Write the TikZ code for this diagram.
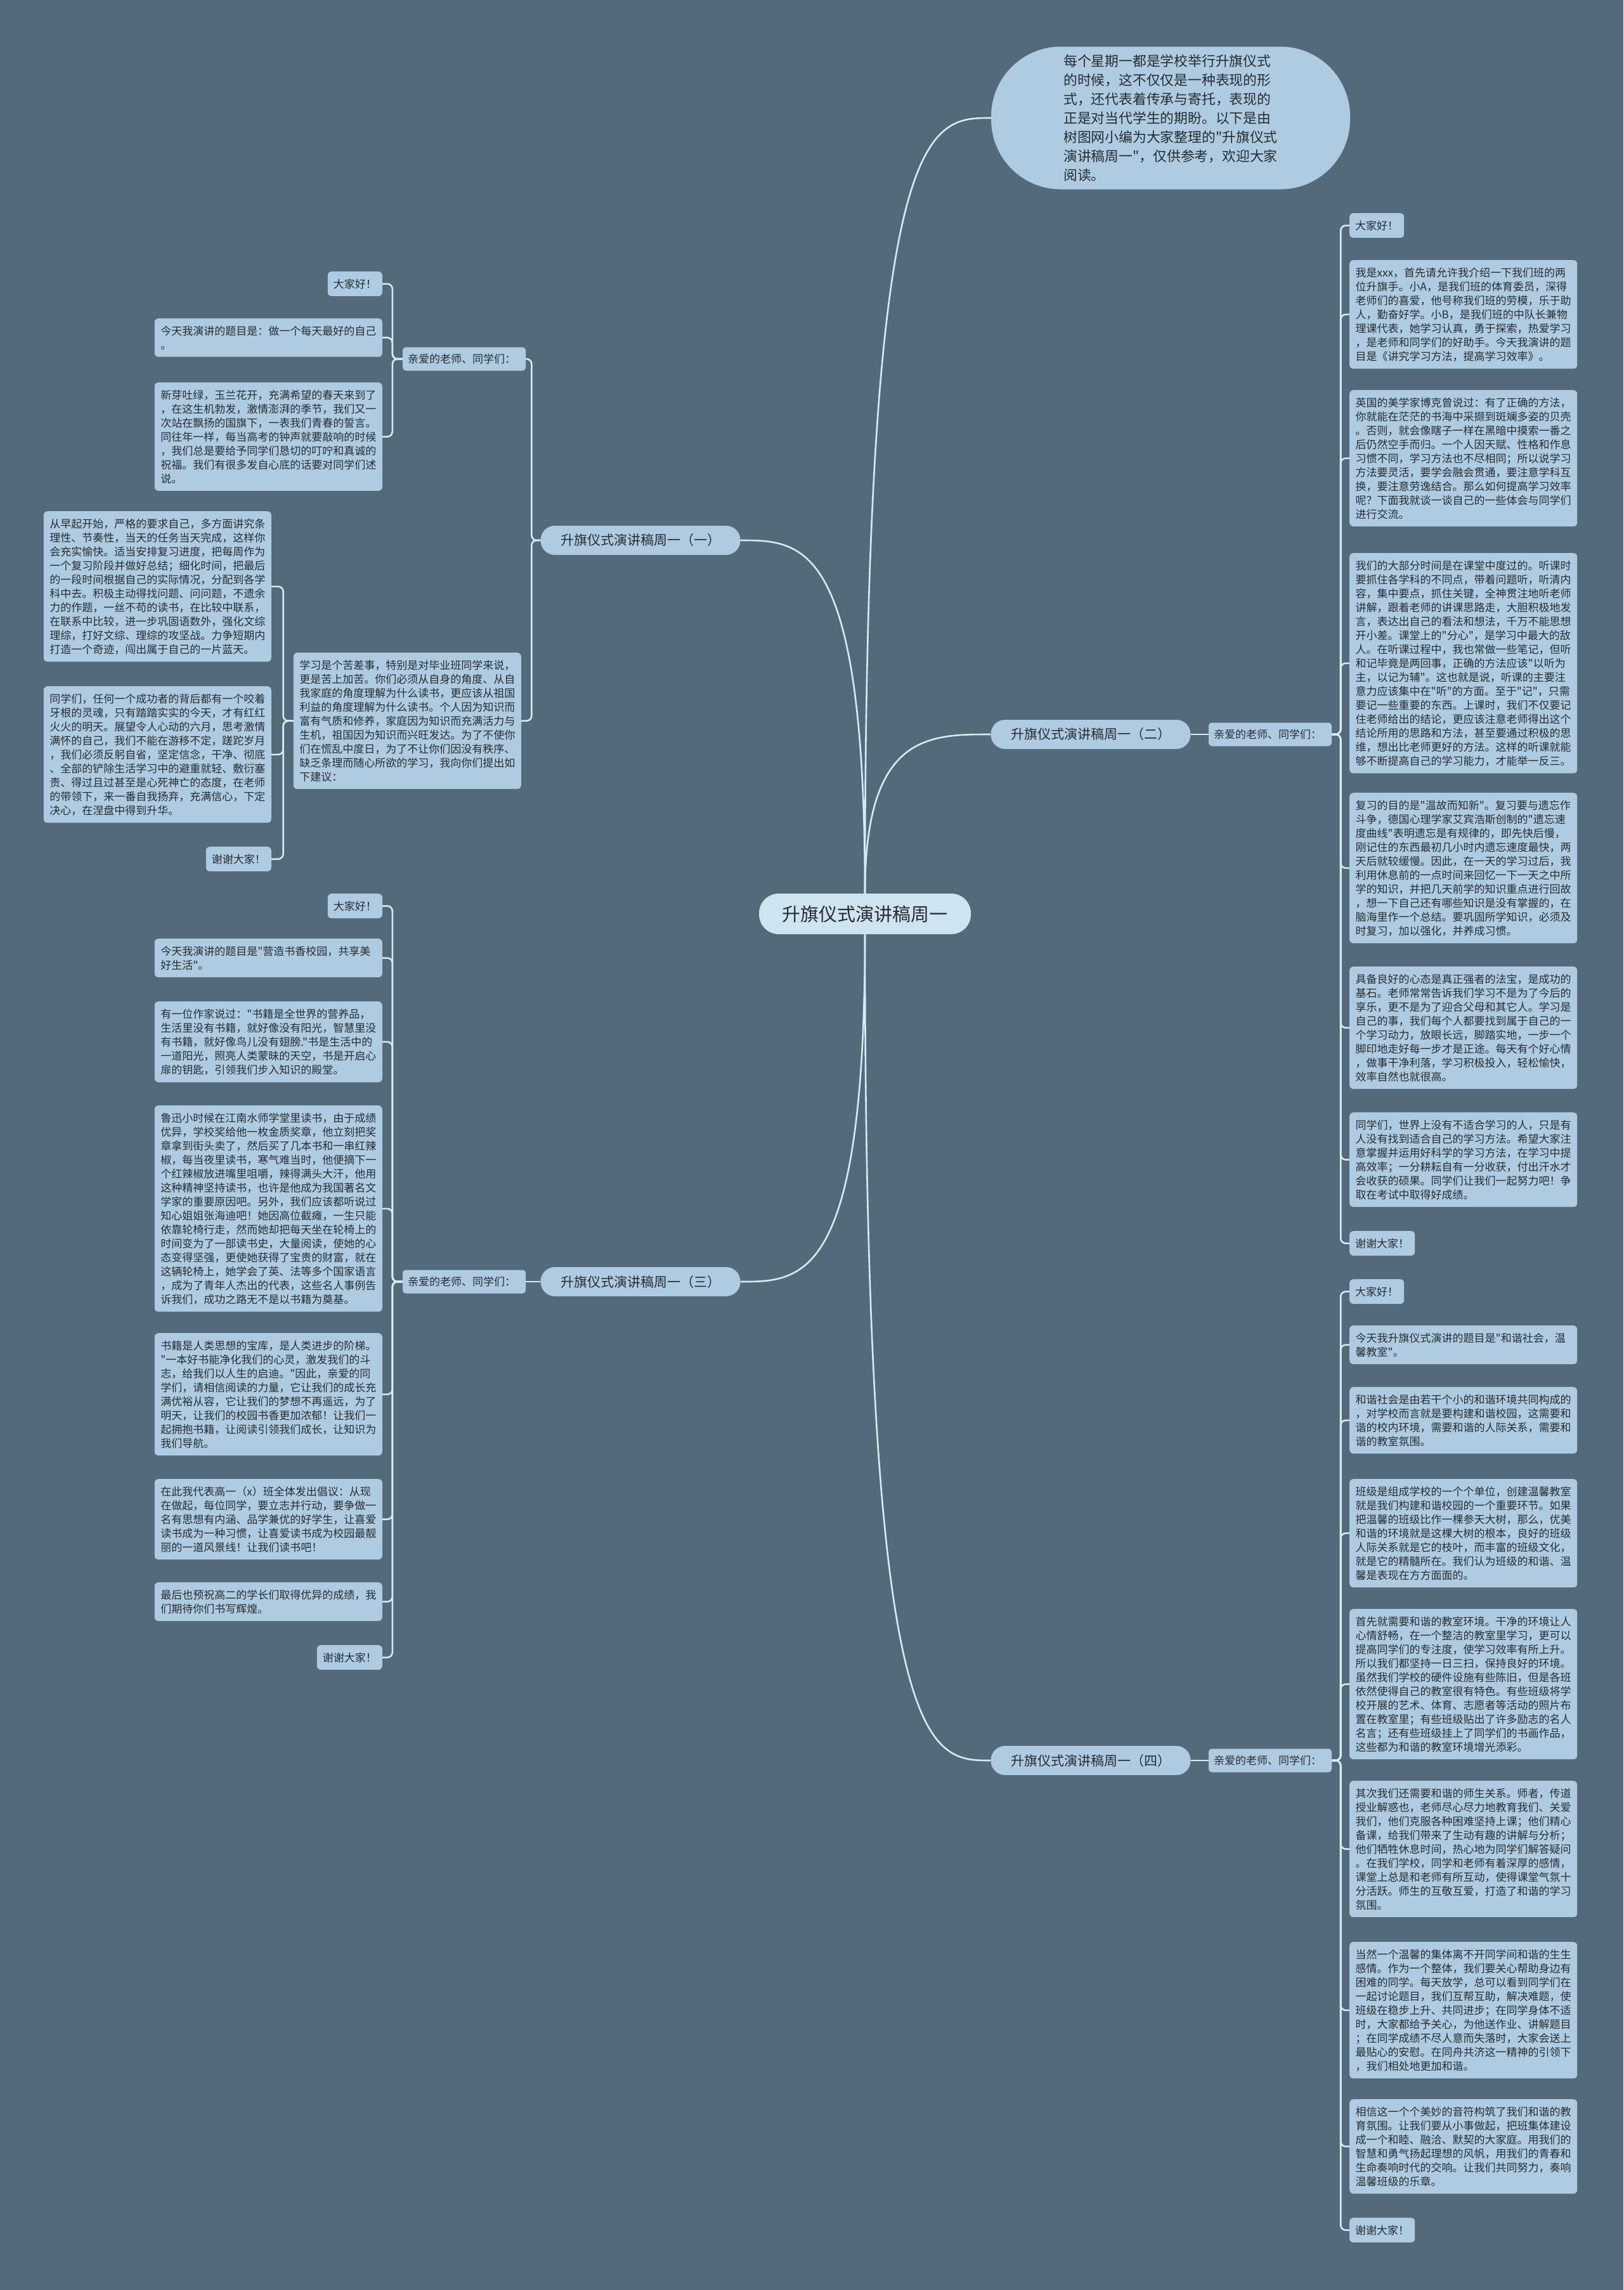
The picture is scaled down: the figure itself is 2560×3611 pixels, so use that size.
\documentclass[tikz,border=0pt]{standalone}
\usepackage{fontspec}
\usepackage{xcolor}
\usepackage{tikz}
\usetikzlibrary{positioning,calc}
\newfontfamily\cjk{Noto Sans CJK SC}
\definecolor{bgslate}{RGB}{84,106,122}
\definecolor{leafblue}{RGB}{174,203,225}
\definecolor{rootblue}{RGB}{207,228,241}
\definecolor{linkblue}{RGB}{214,234,245}
\definecolor{inkgrey}{RGB}{40,44,48}

\begin{document}
\begin{tikzpicture}[x=1pt,y=-1pt,
  every node/.style={font=\cjk,text=inkgrey},
  leaf/.style={fill=leafblue,rounded corners=6pt,inner xsep=9.5pt,inner ysep=11.5pt,text width=340pt,align=left,font=\cjk\fontsize{17}{22}\selectfont},
  tag/.style={fill=leafblue,rounded corners=6pt,inner xsep=9pt,inner ysep=11.5pt,font=\cjk\fontsize{17}{22}\selectfont},
  sub/.style={fill=leafblue,rounded corners=5pt,inner xsep=8pt,text width=178pt,align=left,minimum height=37pt,font=\cjk\fontsize{17}{22}\selectfont},
  br/.style={fill=leafblue,rounded corners=22.5pt,minimum width=315pt,minimum height=46pt,font=\cjk\fontsize{21}{25}\selectfont},
  lk/.style={draw=linkblue,line width=2.6pt,rounded corners=8pt}]
 \path[use as bounding box,fill=bgslate] (0,0) rectangle (2560,3611);

 \node[fill=rootblue,rounded corners=31pt,minimum width=334pt,minimum height=64pt,font=\cjk\fontsize{29}{33}\selectfont] (root) at (1364,1441) {升旗仪式演讲稿周一};
 \node[fill=leafblue,rounded corners=110pt,minimum width=566pt,minimum height=225pt,align=left,font=\cjk\fontsize{21.8}{30}\selectfont] (intro) at (1846,186) {每个星期一都是学校举行升旗仪式\\的时候，这不仅仅是一种表现的形\\式，还代表着传承与寄托，表现的\\正是对当代学生的期盼。以下是由\\树图网小编为大家整理的"升旗仪式\\演讲稿周一"，仅供参考，欢迎大家\\阅读。};

 \node[br] (b1) at (1010,852) {升旗仪式演讲稿周一（一）};
 \node[br] (b2) at (1720,1158) {升旗仪式演讲稿周一（二）};
 \node[br] (b3) at (1010,2021) {升旗仪式演讲稿周一（三）};
 \node[br] (b4) at (1720,2776) {升旗仪式演讲稿周一（四）};

 \node[sub] (s1) at (732,566) {亲爱的老师、同学们：};
 \node[sub] (s2) at (2003,1158) {亲爱的老师、同学们：};
 \node[sub] (s3) at (732,2021) {亲爱的老师、同学们：};
 \node[sub] (s4) at (2003,2776) {亲爱的老师、同学们：};

 % (一)
 \node[tag,anchor=north east] (p1a) at (603,428) {大家好！};
 \node[leaf,anchor=north east] (p1b) at (603,502) {今天我演讲的题目是：做一个每天最好的自己\\。};
 \node[leaf,anchor=north east] (p1c) at (603,603) {新芽吐绿，玉兰花开，充满希望的春天来到了\\，在这生机勃发，激情澎湃的季节，我们又一\\次站在飘扬的国旗下，一表我们青春的誓言。\\同往年一样，每当高考的钟声就要敲响的时候\\，我们总是要给予同学们恳切的叮咛和真诚的\\祝福。我们有很多发自心底的话要对同学们述\\说。};
 \node[leaf,anchor=north east] (t1) at (822,1029) {学习是个苦差事，特别是对毕业班同学来说，\\更是苦上加苦。你们必须从自身的角度、从自\\我家庭的角度理解为什么读书，更应该从祖国\\利益的角度理解为什么读书。个人因为知识而\\富有气质和修养，家庭因为知识而充满活力与\\生机，祖国因为知识而兴旺发达。为了不使你\\们在慌乱中度日，为了不让你们因没有秩序、\\缺乏条理而随心所欲的学习，我向你们提出如\\下建议：};
 \node[leaf,anchor=north east] (q1a) at (428,806) {从早起开始，严格的要求自己，多方面讲究条\\理性、节奏性，当天的任务当天完成，这样你\\会充实愉快。适当安排复习进度，把每周作为\\一个复习阶段并做好总结；细化时间，把最后\\的一段时间根据自己的实际情况，分配到各学\\科中去。积极主动得找问题、问问题，不遗余\\力的作题，一丝不苟的读书，在比较中联系，\\在联系中比较，进一步巩固语数外，强化文综\\理综，打好文综、理综的攻坚战。力争短期内\\打造一个奇迹，闯出属于自己的一片蓝天。};
 \node[leaf,anchor=north east] (q1b) at (428,1082) {同学们，任何一个成功者的背后都有一个咬着\\牙根的灵魂，只有踏踏实实的今天，才有红红\\火火的明天。展望令人心动的六月，思考激情\\满怀的自己，我们不能在游移不定，蹉跎岁月\\，我们必须反躬自省，坚定信念，干净、彻底\\、全部的铲除生活学习中的避重就轻、敷衍塞\\责、得过且过甚至是心死神亡的态度，在老师\\的带领下，来一番自我扬弃，充满信心，下定\\决心，在涅盘中得到升华。};
 \node[tag,anchor=north east] (q1c) at (428,1335) {谢谢大家！};

 % (二)
 \node[tag,anchor=north west] (p2a) at (2128,336) {大家好！};
 \node[leaf,anchor=north west] (p2b) at (2128,410) {我是xxx，首先请允许我介绍一下我们班的两\\位升旗手。小A，是我们班的体育委员，深得\\老师们的喜爱，他号称我们班的劳模，乐于助\\人，勤奋好学。小B，是我们班的中队长兼物\\理课代表，她学习认真，勇于探索，热爱学习\\，是老师和同学们的好助手。今天我演讲的题\\目是《讲究学习方法，提高学习效率》。};
 \node[leaf,anchor=north west] (p2c) at (2128,615) {英国的美学家博克曾说过：有了正确的方法，\\你就能在茫茫的书海中采撷到斑斓多姿的贝壳\\。否则，就会像瞎子一样在黑暗中摸索一番之\\后仍然空手而归。一个人因天赋、性格和作息\\习惯不同，学习方法也不尽相同；所以说学习\\方法要灵活，要学会融会贯通，要注意学科互\\换，要注意劳逸结合。那么如何提高学习效率\\呢？下面我就谈一谈自己的一些体会与同学们\\进行交流。};
 \node[leaf,anchor=north west] (p2d) at (2128,872) {我们的大部分时间是在课堂中度过的。听课时\\要抓住各学科的不同点，带着问题听，听清内\\容，集中要点，抓住关键，全神贯注地听老师\\讲解，跟着老师的讲课思路走，大胆积极地发\\言，表达出自己的看法和想法，千万不能思想\\开小差。课堂上的"分心"，是学习中最大的敌\\人。在听课过程中，我也常做一些笔记，但听\\和记毕竟是两回事，正确的方法应该"以听为\\主，以记为辅"。这也就是说，听课的主要注\\意力应该集中在"听"的方面。至于"记"，只需\\要记一些重要的东西。上课时，我们不仅要记\\住老师给出的结论，更应该注意老师得出这个\\结论所用的思路和方法，甚至要通过积极的思\\维，想出比老师更好的方法。这样的听课就能\\够不断提高自己的学习能力，才能举一反三。};
 \node[leaf,anchor=north west] (p2e) at (2128,1250) {复习的目的是"温故而知新"。复习要与遗忘作\\斗争，德国心理学家艾宾浩斯创制的"遗忘速\\度曲线"表明遗忘是有规律的，即先快后慢，\\刚记住的东西最初几小时内遗忘速度最快，两\\天后就较缓慢。因此，在一天的学习过后，我\\利用休息前的一点时间来回忆一下一天之中所\\学的知识，并把几天前学的知识重点进行回故\\，想一下自己还有哪些知识是没有掌握的，在\\脑海里作一个总结。要巩固所学知识，必须及\\时复习，加以强化，并养成习惯。};
 \node[leaf,anchor=north west] (p2f) at (2128,1524) {具备良好的心态是真正强者的法宝，是成功的\\基石。老师常常告诉我们学习不是为了今后的\\享乐，更不是为了迎合父母和其它人。学习是\\自己的事，我们每个人都要找到属于自己的一\\个学习动力，放眼长远，脚踏实地，一步一个\\脚印地走好每一步才是正途。每天有个好心情\\，做事干净利落，学习积极投入，轻松愉快，\\效率自然也就很高。};
 \node[leaf,anchor=north west] (p2g) at (2128,1754) {同学们，世界上没有不适合学习的人，只是有\\人没有找到适合自己的学习方法。希望大家注\\意掌握并运用好科学的学习方法，在学习中提\\高效率；一分耕耘自有一分收获，付出汗水才\\会收获的硕果。同学们让我们一起努力吧！争\\取在考试中取得好成绩。};
 \node[tag,anchor=north west] (p2h) at (2128,1941) {谢谢大家！};

 % (三)
 \node[tag,anchor=north east] (p3a) at (603,1409) {大家好！};
 \node[leaf,anchor=north east] (p3b) at (603,1480) {今天我演讲的题目是"营造书香校园，共享美\\好生活"。};
 \node[leaf,anchor=north east] (p3c) at (603,1579) {有一位作家说过："书籍是全世界的营养品，\\生活里没有书籍，就好像没有阳光，智慧里没\\有书籍，就好像鸟儿没有翅膀."书是生活中的\\一道阳光，照亮人类蒙昧的天空，书是开启心\\扉的钥匙，引领我们步入知识的殿堂。};
 \node[leaf,anchor=north east] (p3d) at (603,1743) {鲁迅小时候在江南水师学堂里读书，由于成绩\\优异，学校奖给他一枚金质奖章，他立刻把奖\\章拿到街头卖了，然后买了几本书和一串红辣\\椒，每当夜里读书，寒气难当时，他便摘下一\\个红辣椒放进嘴里咀嚼，辣得满头大汗，他用\\这种精神坚持读书，也许是他成为我国著名文\\学家的重要原因吧。另外，我们应该都听说过\\知心姐姐张海迪吧！她因高位截瘫，一生只能\\依靠轮椅行走，然而她却把每天坐在轮椅上的\\时间变为了一部读书史，大量阅读，使她的心\\态变得坚强，更使她获得了宝贵的财富，就在\\这辆轮椅上，她学会了英、法等多个国家语言\\，成为了青年人杰出的代表，这些名人事例告\\诉我们，成功之路无不是以书籍为奠基。};
 \node[leaf,anchor=north east] (p3e) at (603,2102) {书籍是人类思想的宝库，是人类进步的阶梯。\\"一本好书能净化我们的心灵，激发我们的斗\\志，给我们以人生的启迪。"因此，亲爱的同\\学们，请相信阅读的力量，它让我们的成长充\\满优裕从容，它让我们的梦想不再遥远，为了\\明天，让我们的校园书香更加浓郁！让我们一\\起拥抱书籍，让阅读引领我们成长，让知识为\\我们导航。};
 \node[leaf,anchor=north east] (p3f) at (603,2332) {在此我代表高一（x）班全体发出倡议：从现\\在做起，每位同学，要立志并行动，要争做一\\名有思想有内涵、品学兼优的好学生，让喜爱\\读书成为一种习惯，让喜爱读书成为校园最靓\\丽的一道风景线！让我们读书吧！};
 \node[leaf,anchor=north east] (p3g) at (603,2495) {最后也预祝高二的学长们取得优异的成绩，我\\们期待你们书写辉煌。};
 \node[tag,anchor=north east] (p3h) at (603,2594) {谢谢大家！};

 % (四)
 \node[tag,anchor=north west] (p4a) at (2128,2017) {大家好！};
 \node[leaf,anchor=north west] (p4b) at (2128,2090) {今天我升旗仪式演讲的题目是"和谐社会，温\\馨教室"。};
 \node[leaf,anchor=north west] (p4c) at (2128,2187) {和谐社会是由若干个小的和谐环境共同构成的\\，对学校而言就是要构建和谐校园，这需要和\\谐的校内环境，需要和谐的人际关系，需要和\\谐的教室氛围。};
 \node[leaf,anchor=north west] (p4d) at (2128,2332) {班级是组成学校的一个个单位，创建温馨教室\\就是我们构建和谐校园的一个重要环节。如果\\把温馨的班级比作一棵参天大树，那么，优美\\和谐的环境就是这棵大树的根本，良好的班级\\人际关系就是它的枝叶，而丰富的班级文化，\\就是它的精髓所在。我们认为班级的和谐、温\\馨是表现在方方面面的。};
 \node[leaf,anchor=north west] (p4e) at (2128,2537) {首先就需要和谐的教室环境。干净的环境让人\\心情舒畅，在一个整洁的教室里学习，更可以\\提高同学们的专注度，使学习效率有所上升。\\所以我们都坚持一日三扫，保持良好的环境。\\虽然我们学校的硬件设施有些陈旧，但是各班\\依然使得自己的教室很有特色。有些班级将学\\校开展的艺术、体育、志愿者等活动的照片布\\置在教室里；有些班级贴出了许多励志的名人\\名言；还有些班级挂上了同学们的书画作品，\\这些都为和谐的教室环境增光添彩。};
 \node[leaf,anchor=north west] (p4f) at (2128,2808) {其次我们还需要和谐的师生关系。师者，传道\\授业解惑也，老师尽心尽力地教育我们、关爱\\我们，他们克服各种困难坚持上课；他们精心\\备课，给我们带来了生动有趣的讲解与分析；\\他们牺牲休息时间，热心地为同学们解答疑问\\。在我们学校，同学和老师有着深厚的感情，\\课堂上总是和老师有所互动，使得课堂气氛十\\分活跃。师生的互敬互爱，打造了和谐的学习\\氛围。};
 \node[leaf,anchor=north west] (p4g) at (2128,3062) {当然一个温馨的集体离不开同学间和谐的生生\\感情。作为一个整体，我们要关心帮助身边有\\困难的同学。每天放学，总可以看到同学们在\\一起讨论题目，我们互帮互助，解决难题，使\\班级在稳步上升、共同进步；在同学身体不适\\时，大家都给予关心，为他送作业、讲解题目\\；在同学成绩不尽人意而失落时，大家会送上\\最贴心的安慰。在同舟共济这一精神的引领下\\，我们相处地更加和谐。};
 \node[leaf,anchor=north west] (p4h) at (2128,3310) {相信这一个个美妙的音符构筑了我们和谐的教\\育氛围。让我们要从小事做起，把班集体建设\\成一个和睦、融洽、默契的大家庭。用我们的\\智慧和勇气扬起理想的风帆，用我们的青春和\\生命奏响时代的交响。让我们共同努力，奏响\\温馨班级的乐章。};
 \node[tag,anchor=north west] (p4i) at (2128,3497) {谢谢大家！};

 \foreach \b/\a in {intro/west,b1/east,b2/west,b3/east,b4/west}
  \draw[lk] (root) .. controls (root |- \b) and ($(root |- \b)!0.5!(\b.\a)$) .. (\b.\a);
 \draw[lk] (b1.west) -- ++(-14,0) |- (s1.east);
 \draw[lk] (b1.west) -- ++(-14,0) |- (t1.east);
 \draw[lk] (b2) -- (s2);
 \draw[lk] (b3) -- (s3);
 \draw[lk] (b4) -- (s4);
 \foreach \c in {p1a,p1b,p1c} \draw[lk] (s1.west) -- ++(-16,0) |- (\c.east);
 \foreach \c in {q1a,q1b,q1c} \draw[lk] (t1.west) -- ++(-16,0) |- (\c.east);
 \foreach \c in {p2a,p2b,p2c,p2d,p2e,p2f,p2g,p2h} \draw[lk] (s2.east) -- ++(14,0) |- (\c.west);
 \foreach \c in {p3a,p3b,p3c,p3d,p3e,p3f,p3g,p3h} \draw[lk] (s3.west) -- ++(-16,0) |- (\c.east);
 \foreach \c in {p4a,p4b,p4c,p4d,p4e,p4f,p4g,p4h,p4i} \draw[lk] (s4.east) -- ++(14,0) |- (\c.west);
\end{tikzpicture}
\end{document}
